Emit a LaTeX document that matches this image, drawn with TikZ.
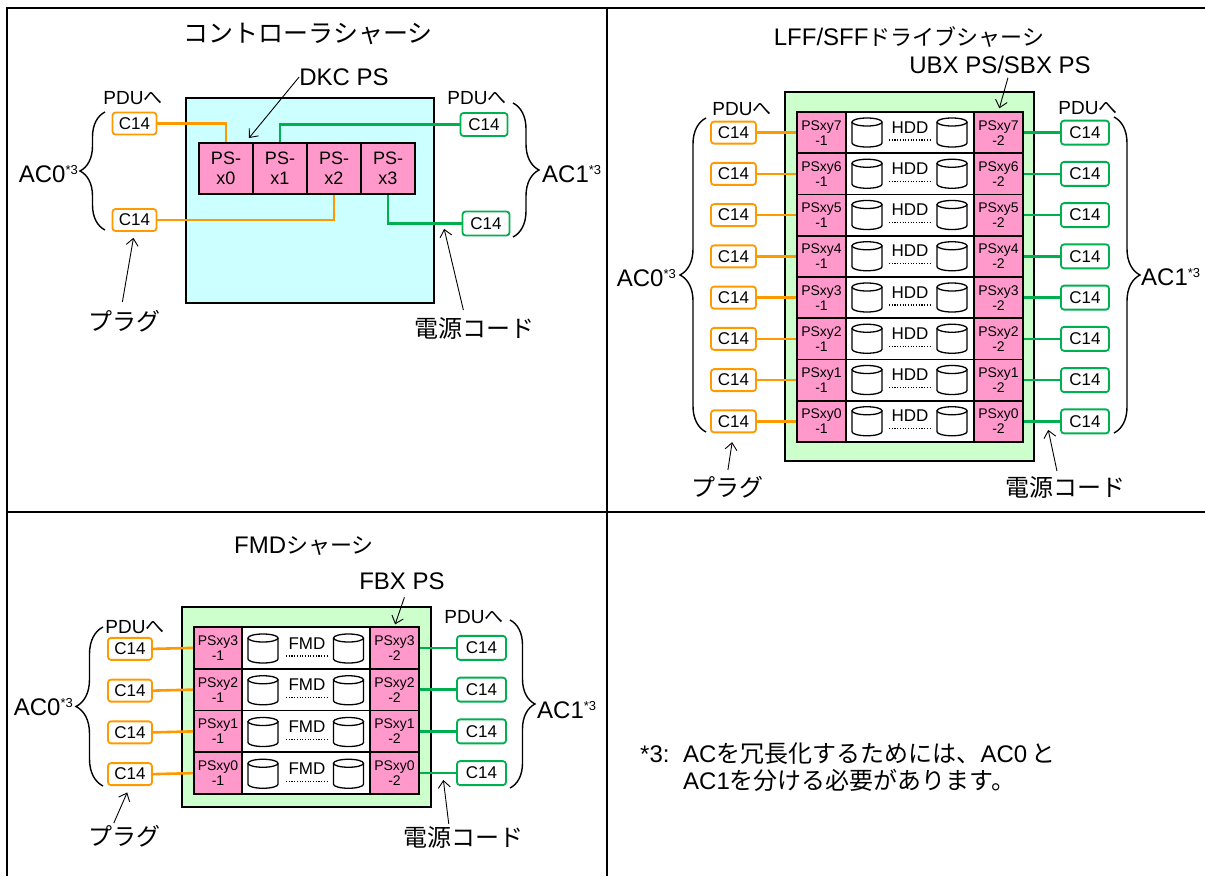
\documentclass[tikz,border=0pt]{standalone}
\usepackage{fontspec}
\setmainfont{Liberation Sans}
\newfontfamily\cjk{Noto Sans CJK JP}
\usetikzlibrary{arrows.meta,decorations.pathreplacing}
\definecolor{orng}{HTML}{FF9900}
\definecolor{grn}{HTML}{00B050}
\definecolor{cyanfill}{HTML}{CCFFFF}
\definecolor{pinkfill}{HTML}{FF99CC}
\definecolor{ltgreen}{HTML}{CCFFCC}
\newcommand{\myfs}[1]{\fontsize{#1}{#1}\selectfont}
\newcommand{\supthree}{\raisebox{7.5pt}{\myfs{13}*3}}
\newcommand{\mycyl}[2]{%
  \filldraw[fill=white, line width=1.3pt] (#1-15,#2+4) -- (#1-15,#2+25) arc[start angle=180,end angle=360,x radius=15pt,y radius=4pt] -- (#1+15,#2+4);
  \draw[line width=1.3pt] (#1,#2+4) ellipse[x radius=15pt, y radius=4pt];
}
\begin{document}
\begin{tikzpicture}[x=1pt,y=-1pt,
  frameline/.style={line width=2pt, black},
  chassis/.style={draw=black, line width=1.8pt, inner sep=0pt},
  cbox/.style={draw=#1, rounded corners=3pt, line width=1.8pt, fill=white, inner sep=0pt, font=\myfs{17}},
  psbox/.style={draw=black, line width=1.6pt, fill=pinkfill, inner sep=0pt, align=center},
  smallps/.style={psbox, font=\fontsize{14}{15}\selectfont},
  midcell/.style={draw=black, line width=1.6pt, fill=white, inner sep=0pt},
  cord/.style={line width=2.6pt},
  arr/.style={line width=0.9pt, -{Straight Barb[length=7pt,width=12pt]}},
  brc/.style={decorate, decoration={brace, amplitude=#1}, line width=1.4pt},
  dotline/.style={line width=1.1pt, dash pattern=on 1.1pt off 1.6pt},
  lbl/.style={inner sep=0pt},
  jlbl/.style={inner sep=0pt, font=\cjk\myfs{24}}
]
\useasboundingbox (0,0) rectangle (1205,876);
\fill[white] (0,0) rectangle (1205,876);

% ---------- frame ----------
\draw[frameline] (6,7.5) -- (1205,7.5);
\draw[frameline] (7,7) -- (7,876);
\draw[frameline] (606.5,7) -- (606.5,876);
\draw[frameline] (7,512) -- (1205,512);

% ---------- top-left: controller chassis ----------
\node[jlbl, font=\cjk\myfs{25}] (titleA) at (308,34) {コントローラシャーシ};
\node[chassis, fill=cyanfill, minimum width=248pt, minimum height=205pt] (chA) at (310,200.5) {};
\node[psbox, minimum width=54pt, minimum height=51pt, font=\fontsize{18}{20}\selectfont] (psa0) at (226,168.5) {PS-\\x0};
\node[psbox, minimum width=54pt, minimum height=51pt, font=\fontsize{18}{20}\selectfont] (psa1) at (280,168.5) {PS-\\x1};
\node[psbox, minimum width=54pt, minimum height=51pt, font=\fontsize{18}{20}\selectfont] (psa2) at (334,168.5) {PS-\\x2};
\node[psbox, minimum width=54pt, minimum height=51pt, font=\fontsize{18}{20}\selectfont] (psa3) at (388,168.5) {PS-\\x3};
\node[cbox=orng, minimum width=44pt, minimum height=22pt] (la1) at (134.5,123.5) {C14};
\node[cbox=orng, minimum width=44pt, minimum height=22pt] (la2) at (134.5,220) {C14};
\node[cbox=grn, minimum width=47pt, minimum height=23pt] (ra1) at (484,124.5) {C14};
\node[cbox=grn, minimum width=47pt, minimum height=24pt] (ra2) at (486,223.5) {C14};
\draw[cord, orng] (la1.east) -| (psa0.north);
\draw[cord, grn] (ra1.west) -| (psa1.north);
\draw[cord, orng] (la2.east) -| (psa2.south);
\draw[cord, grn] (psa3.south) |- (ra2.west);
\node[lbl, font=\myfs{24}] (dkc) at (344,77) {DKC PS};
\coordinate (dkcTip) at (249,138);
\draw[arr] (dkc.west) -- (dkcTip);
\node[lbl, font=\myfs{19}] (pduA1) at (133,98) {PDU{\cjk へ}};
\node[lbl, font=\myfs{19}] (pduA2) at (477,98) {PDU{\cjk へ}};
\draw[brc=25pt] (105,230) -- (105,112);
\draw[brc=26pt] (513,103) -- (513,237);
\node[lbl, anchor=base east, font=\myfs{24}] (acA0) at (78,182) {AC0\supthree};
\node[lbl, anchor=base west, font=\myfs{24}] (acA1) at (542,182) {AC1\supthree};
\node[jlbl] (plugA) at (124,321) {プラグ};
\draw[arr, shorten <=8pt, shorten >=6pt] ([xshift=-3pt]plugA.north) -- (la2.south);
\node[jlbl] (cordlblA) at (474,328) {電源コード};
\coordinate (cordA) at (443,224);
\draw[arr, shorten <=7pt, shorten >=5pt] ([xshift=-9pt]cordlblA.north) -- (cordA);

% ---------- top-right: LFF/SFF drive chassis ----------
\node[lbl, font=\myfs{24}] (titleB) at (909,37) {LFF/SFF{\cjk\myfs{22}ドライブシャーシ}};
\node[lbl, font=\myfs{24}] (ubx) at (1000,65) {UBX PS/SBX PS};
\node[chassis, fill=ltgreen, minimum width=249pt, minimum height=369pt] (chB) at (909.5,276.5) {};
\foreach \i in {0,...,7}{
  \pgfmathsetmacro{\yt}{112+(7-\i)*41.25}
  \pgfmathsetmacro{\yc}{\yt+20.625}
  \node[smallps, minimum width=49pt, minimum height=41.25pt] (lb\i) at (821.5,\yc) {PSxy\i\\-1};
  \node[midcell, minimum width=128pt, minimum height=41.25pt] (mb\i) at (910,\yc) {};
  \node[smallps, minimum width=49pt, minimum height=41.25pt] (rb\i) at (998.5,\yc) {PSxy\i\\-2};
  \mycyl{867}{\yt+6}
  \mycyl{952}{\yt+6}
  \node[lbl, anchor=base, font=\myfs{17}] (hdd\i) at (910,\yt+21) {HDD};
  \draw[dotline] (889,\yt+28) -- (930,\yt+28);
  \node[cbox=orng, minimum width=45pt, minimum height=22pt] (lcb\i) at (733.5,\yc) {C14};
  \node[cbox=grn, minimum width=48pt, minimum height=24pt] (rcb\i) at (1085,\yc) {C14};
  \draw[cord, orng] (lcb\i.east) -- (lb\i.west);
  \draw[cord, grn] (rb\i.east) -- (rcb\i.west);
}
\draw[arr, shorten <=4pt, shorten >=3pt] ([xshift=9pt]ubx.south) -- (rb7.north);
\node[lbl, font=\myfs{19}] (pduB1) at (742,109) {PDU{\cjk へ}};
\node[lbl, font=\myfs{19}] (pduB2) at (1088,108) {PDU{\cjk へ}};
\draw[brc=26pt] (706,432) -- (706,118);
\draw[brc=26pt] (1114,117) -- (1114,433);
\node[lbl, anchor=base east, font=\myfs{24}] (acB0) at (676,286) {AC0\supthree};
\node[lbl, anchor=base west, font=\myfs{24}] (acB1) at (1141,285) {AC1\supthree};
\node[jlbl] (plugB) at (727,487) {プラグ};
\draw[arr, shorten <=6pt, shorten >=9pt] (plugB.north) -- (lcb0.south);
\node[jlbl] (cordlblB) at (1065,487) {電源コード};
\coordinate (cordB) at (1047,424);
\draw[arr, shorten <=5pt, shorten >=6pt] ([xshift=-7pt]cordlblB.north) -- (cordB);

% ---------- bottom-left: FMD chassis ----------
\node[lbl, font=\myfs{24}] (titleC) at (304,546) {FMD{\cjk\myfs{22}シャーシ}};
\node[lbl, font=\myfs{24}] (fbx) at (402,581) {FBX PS};
\node[chassis, fill=ltgreen, minimum width=249pt, minimum height=200pt] (chC) at (306.5,707) {};
\foreach \i in {0,...,3}{
  \pgfmathsetmacro{\yt}{627+(3-\i)*41.75}
  \pgfmathsetmacro{\yc}{\yt+20.875}
  \node[smallps, minimum width=48pt, minimum height=41.75pt] (lf\i) at (218,\yc) {PSxy\i\\-1};
  \node[midcell, minimum width=128pt, minimum height=41.75pt] (mf\i) at (306,\yc) {};
  \node[smallps, minimum width=49pt, minimum height=41.75pt] (rf\i) at (394.5,\yc) {PSxy\i\\-2};
  \mycyl{263}{\yt+7}
  \mycyl{348.5}{\yt+7}
  \node[lbl, anchor=base, font=\myfs{17}] (fmd\i) at (307,\yt+22) {FMD};
  \draw[dotline] (286,\yt+29) -- (327,\yt+29);
  \node[cbox=orng, minimum width=44pt, minimum height=22pt] (lcf\i) at (130,\yc+1) {C14};
  \node[cbox=grn, minimum width=49pt, minimum height=24pt] (rcf\i) at (481.5,\yc) {C14};
  \draw[cord, orng] (lcf\i.east) -- (lf\i.west);
  \draw[cord, grn] (rf\i.east) -- (rcf\i.west);
}
\draw[arr, shorten <=8pt, shorten >=2pt] ([xshift=5pt]fbx.south) -- (rf3.north);
\node[lbl, font=\myfs{19}] (pduC1) at (135,627) {PDU{\cjk へ}};
\node[lbl, font=\myfs{19}] (pduC2) at (474,617) {PDU{\cjk へ}};
\draw[brc=27pt] (103,786) -- (103,627);
\draw[brc=25pt] (510,620) -- (510,788);
\node[lbl, anchor=base east, font=\myfs{24}] (acC0) at (73,715) {AC0\supthree};
\node[lbl, anchor=base west, font=\myfs{24}] (acC1) at (537,718) {AC1\supthree};
\node[jlbl] (plugC) at (124,836) {プラグ};
\draw[arr, shorten <=2pt, shorten >=7pt] ([xshift=-11pt]plugC.north) -- (lcf0.south);
\node[jlbl] (cordlblC) at (463,837) {電源コード};
\coordinate (cordC) at (443,777);
\draw[arr, shorten <=2pt, shorten >=3pt] ([xshift=-14pt]cordlblC.north) -- (cordC);

% ---------- bottom-right: note ----------
\node[lbl, anchor=base west, font=\myfs{24}] (note0) at (640,762) {*3:};
\node[lbl, anchor=base west, font=\myfs{24}] (note1) at (683,762) {AC{\cjk を冗長化するためには、}AC0\,{\cjk と}};
\node[lbl, anchor=base west, font=\myfs{24}] (note2) at (683,789) {AC1{\cjk を分ける必要があります。}};
\end{tikzpicture}
\end{document}
